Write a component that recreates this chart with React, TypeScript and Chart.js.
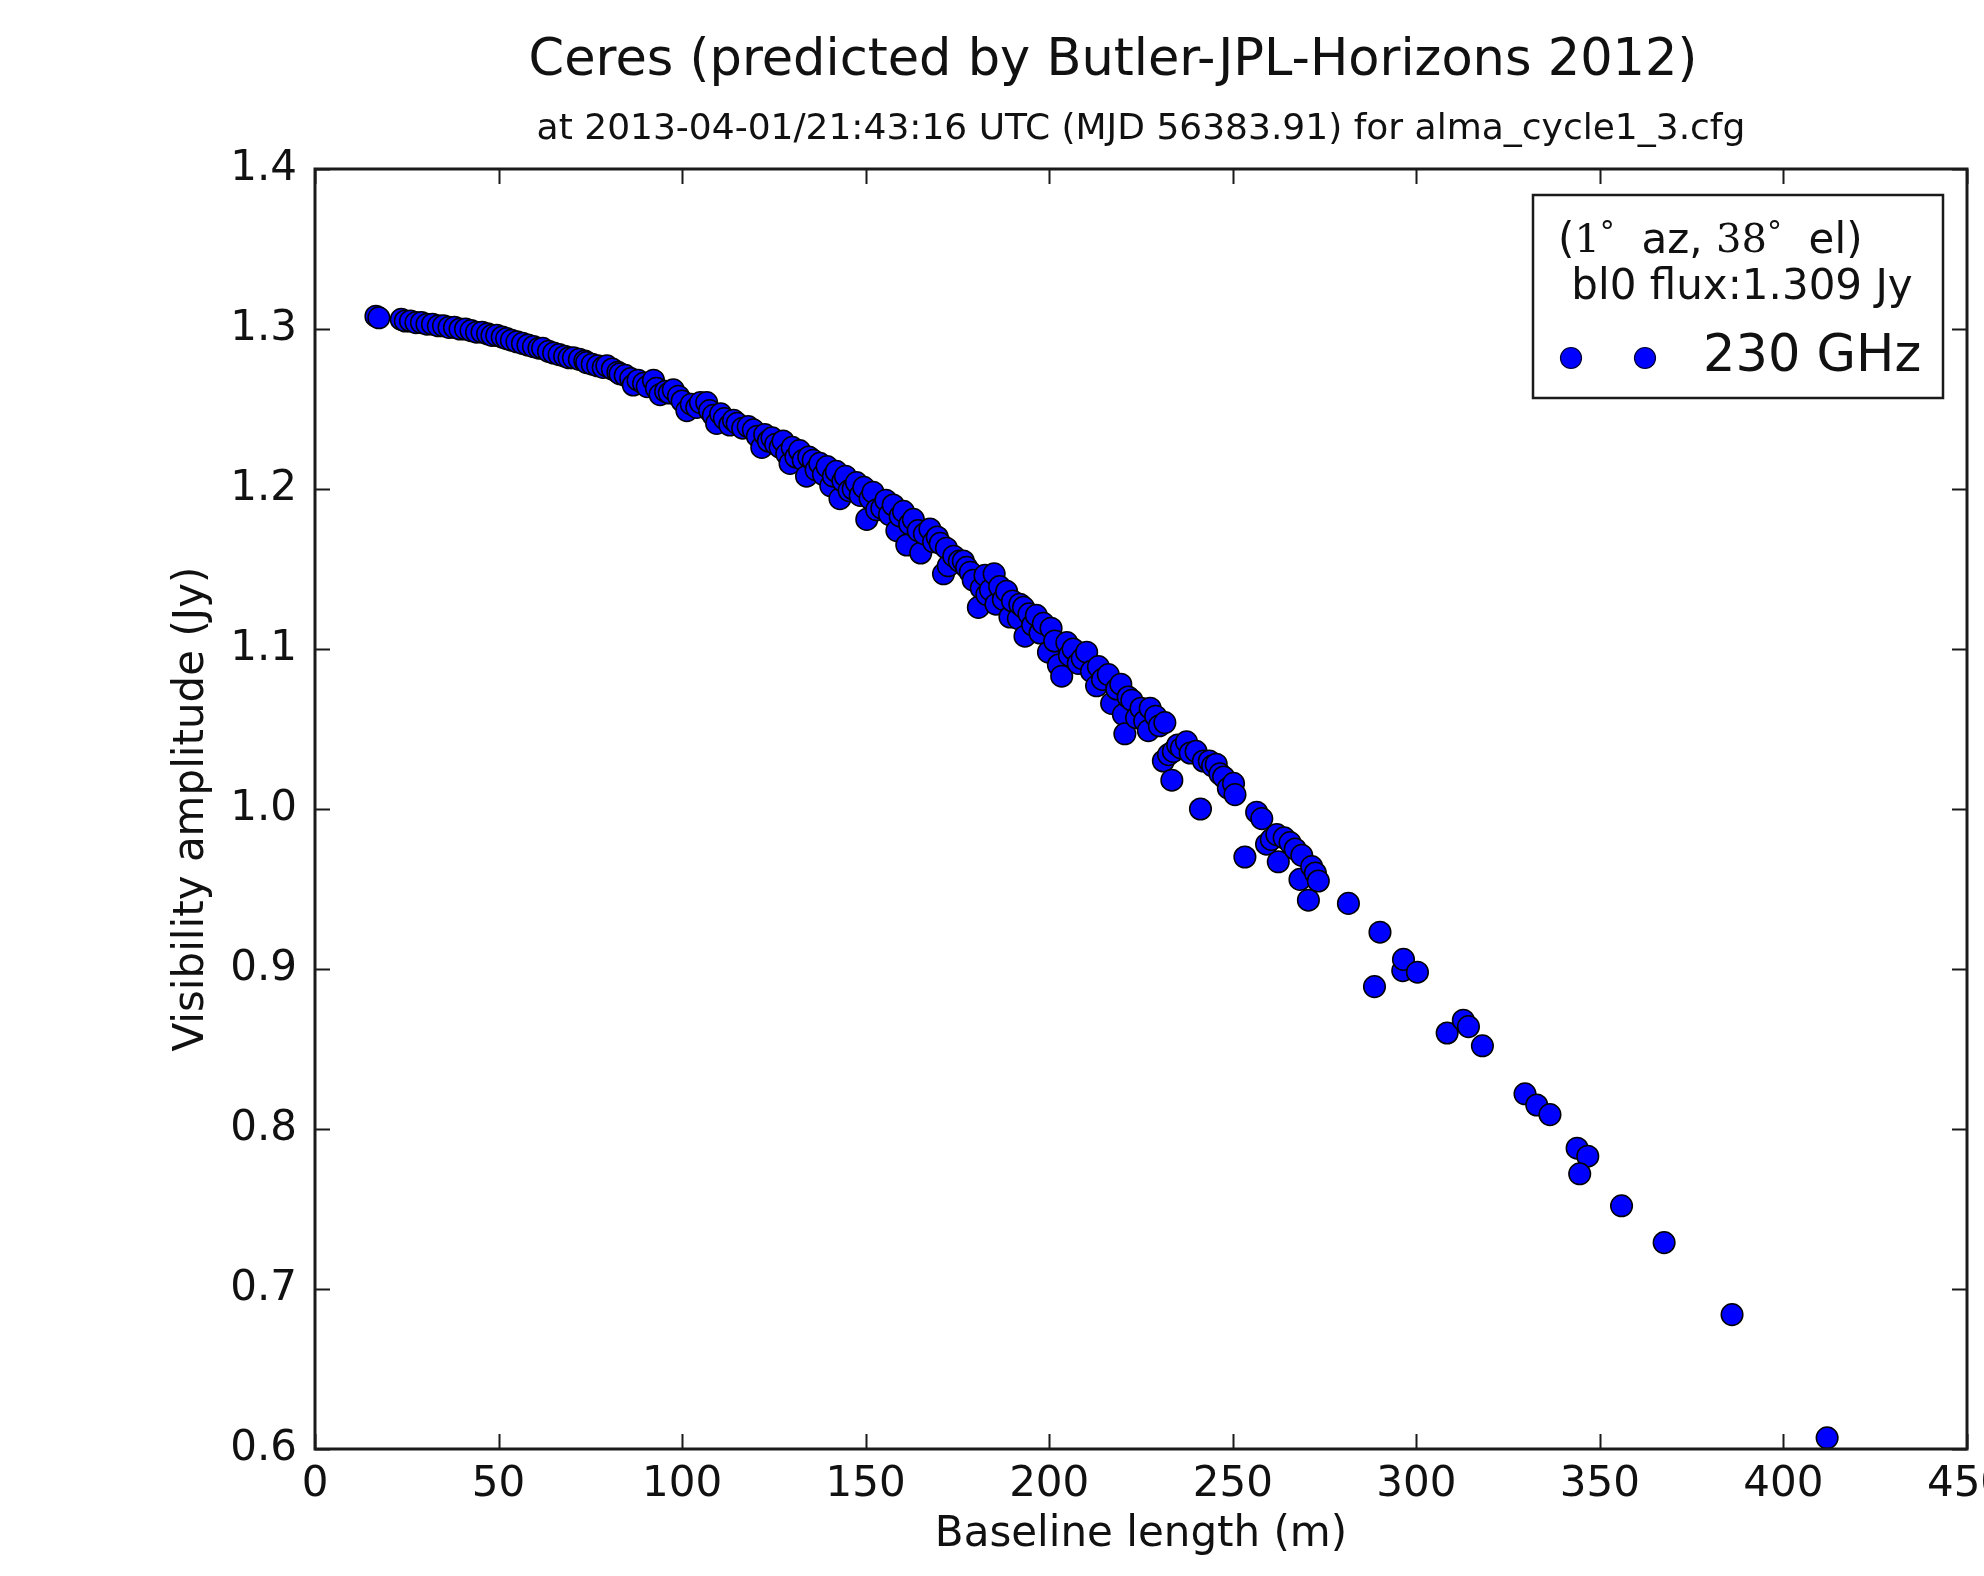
import React, { useEffect, useRef } from "react";
import { Chart, registerables } from "chart.js";

Chart.register(...registerables);

const FONT = "'DejaVu Sans', 'Liberation Sans', sans-serif";
const SERIF = "'DejaVu Serif', 'Liberation Serif', serif";

const chartTitle = "Ceres (predicted by Butler-JPL-Horizons 2012)";
const chartSubtitle = "at 2013-04-01/21:43:16 UTC (MJD 56383.91) for alma_cycle1_3.cfg";
const xAxisLabel = "Baseline length (m)";
const yAxisLabel = "Visibility amplitude (Jy)";
const seriesLabel = "230 GHz";
const legendFluxNote = " bl0 flux:1.309 Jy";
const legendAzimuth = "1";
const legendElevation = "38";

const xTickValues = [0, 50, 100, 150, 200, 250, 300, 350, 400, 450];
const yTickValues = [0.6, 0.7, 0.8, 0.9, 1.0, 1.1, 1.2, 1.3, 1.4];

// Baseline length (m)
const baselineM = [
  16.6, 17.4, 23.5, 24.6, 26.0, 27.5, 29.0, 30.5, 32.0, 33.6,
  35.0, 36.5, 38.0, 39.5, 41.0, 42.5, 44.0, 45.5, 47.0, 48.2,
  49.5, 51.0, 52.2, 53.5, 55.0, 56.5, 58.0, 59.5, 61.0, 62.0,
  63.6, 65.0, 66.5, 68.0, 69.2, 70.4, 72.0, 73.5, 74.0, 75.5,
  77.0, 78.5, 79.5, 81.0, 82.5, 83.1, 84.5, 86.0, 86.7, 88.0,
  89.5, 90.5, 92.2, 93.0, 94.0, 95.5, 96.5, 97.6, 99.0, 100.0,
  101.3, 102.5, 104.0, 105.0, 106.7, 107.5, 108.5, 109.4, 110.5, 111.5,
  113.0, 114.0, 115.0, 116.5, 118.0, 119.4, 120.5, 121.7, 122.5, 123.5,
  124.5, 125.5, 126.7, 127.5, 128.5, 129.4, 130.0, 131.0, 132.0, 133.0,
  133.9, 134.5, 135.7, 136.5, 137.5, 138.5, 139.5, 140.5, 141.2, 142.0,
  143.0, 143.8, 144.5, 145.5, 146.6, 147.5, 148.5, 149.5, 150.3, 151.2,
  152.0, 153.0, 154.4, 155.5, 156.5, 157.5, 158.5, 159.4, 160.3, 161.2,
  162.0, 163.0, 164.3, 165.0, 166.0, 167.5, 168.5, 169.5, 170.3, 171.2,
  172.0, 172.5, 174.0, 175.5, 176.6, 177.5, 178.5, 179.3, 180.7, 181.5,
  182.5, 183.0, 184.0, 185.0, 185.5, 186.5, 187.5, 188.4, 189.3, 190.0,
  191.6, 192.0, 193.0, 193.4, 194.5, 195.5, 196.5, 197.5, 198.4, 199.8,
  200.5, 201.5, 202.5, 203.4, 204.8, 205.5, 206.5, 207.9, 209.0, 210.2,
  211.5, 212.9, 213.4, 214.5, 216.1, 217.0, 218.4, 219.5, 220.2, 220.6,
  221.5, 222.5, 223.8, 225.0, 226.0, 227.0, 227.5, 229.0, 230.0, 231.5,
  231.1, 232.5, 233.4, 233.8, 235.0, 236.0, 237.4, 238.4, 240.0, 241.2,
  242.0, 243.6, 244.5, 245.5, 246.5, 247.5, 248.8, 250.2, 250.6, 253.3,
  256.5, 257.9, 259.2, 260.5, 262.0, 262.4, 264.0, 265.6, 267.0, 268.3,
  268.8, 270.6, 271.5, 272.5, 273.3, 281.5, 288.6, 290.1, 296.3, 296.5,
  300.3, 308.4, 312.8, 314.2, 318.0, 329.6, 332.8, 336.4, 343.8, 346.7,
  344.5, 355.9, 367.5, 386.0, 411.9,
];

// Visibility amplitude (Jy)
const amplitudeJy = [
  1.308, 1.307, 1.306, 1.305, 1.305, 1.304, 1.304, 1.303, 1.303, 1.302,
  1.302, 1.301, 1.301, 1.300, 1.300, 1.299, 1.298, 1.298, 1.297, 1.296,
  1.296, 1.295, 1.294, 1.293, 1.292, 1.291, 1.290, 1.289, 1.288, 1.288,
  1.286, 1.285, 1.284, 1.283, 1.282, 1.282, 1.281, 1.280, 1.279, 1.278,
  1.277, 1.276, 1.277, 1.275, 1.273, 1.272, 1.271, 1.269, 1.265, 1.268,
  1.266, 1.264, 1.268, 1.263, 1.259, 1.261, 1.260, 1.262, 1.258, 1.255,
  1.249, 1.253, 1.251, 1.254, 1.254, 1.249, 1.246, 1.241, 1.247, 1.244,
  1.240, 1.243, 1.241, 1.238, 1.239, 1.237, 1.233, 1.226, 1.234, 1.230,
  1.232, 1.228, 1.226, 1.230, 1.222, 1.216, 1.226, 1.220, 1.224, 1.218,
  1.208, 1.220, 1.218, 1.212, 1.216, 1.209, 1.214, 1.202, 1.208, 1.211,
  1.194, 1.205, 1.208, 1.199, 1.200, 1.204, 1.196, 1.201, 1.181, 1.194,
  1.198, 1.187, 1.188, 1.193, 1.184, 1.190, 1.174, 1.183, 1.186, 1.165,
  1.178, 1.181, 1.174, 1.160, 1.172, 1.175, 1.167, 1.170, 1.166, 1.147,
  1.163, 1.152, 1.158, 1.155, 1.155, 1.151, 1.148, 1.143, 1.126, 1.138,
  1.146, 1.134, 1.137, 1.147, 1.128, 1.139, 1.131, 1.136, 1.120, 1.130,
  1.119, 1.128, 1.126, 1.108, 1.122, 1.115, 1.121, 1.110, 1.116, 1.098,
  1.113, 1.105, 1.090, 1.083, 1.104, 1.096, 1.100, 1.091, 1.094, 1.098,
  1.086, 1.077, 1.089, 1.081, 1.084, 1.066, 1.075, 1.078, 1.059, 1.047,
  1.070, 1.068, 1.057, 1.063, 1.055, 1.049, 1.063, 1.058, 1.052, 1.054,
  1.030, 1.034, 1.018, 1.036, 1.040, 1.038, 1.042, 1.035, 1.036, 1.000,
  1.030, 1.030, 1.027, 1.028, 1.022, 1.020, 1.013, 1.016, 1.009, 0.970,
  0.998, 0.994, 0.978, 0.981, 0.984, 0.967, 0.982, 0.979, 0.975, 0.956,
  0.971, 0.943, 0.964, 0.960, 0.955, 0.941, 0.889, 0.923, 0.899, 0.906,
  0.898, 0.860, 0.868, 0.864, 0.852, 0.822, 0.815, 0.809, 0.788, 0.783,
  0.772, 0.752, 0.729, 0.684, 0.607,
];

const MARKER_FILL = "#0000ff";
const MARKER_EDGE = "#000000";
const TITLE_SHIFT_X = -28;

const decorPlugin = {
  id: "mplDecor",
  afterLayout(chart: any) {
    const tb = chart.titleBlock;
    if (tb) {
      tb.left += TITLE_SHIFT_X;
      tb.right += TITLE_SHIFT_X;
    }
  },
  afterDraw(chart: any) {
    const { ctx, chartArea: a, scales } = chart;
    const xs = scales.x;
    const ys = scales.y;
    ctx.save();
    // inward tick marks on all four sides
    ctx.strokeStyle = "#1a1a1a";
    ctx.lineWidth = 2;
    ctx.beginPath();
    xs.ticks.forEach((t: any) => {
      const p = Math.round(xs.getPixelForValue(t.value)) + 0.5;
      ctx.moveTo(p, a.bottom);
      ctx.lineTo(p, a.bottom - 15);
      ctx.moveTo(p, a.top);
      ctx.lineTo(p, a.top + 15);
    });
    ys.ticks.forEach((t: any) => {
      const p = Math.round(ys.getPixelForValue(t.value)) + 0.5;
      ctx.moveTo(a.left, p);
      ctx.lineTo(a.left + 15, p);
      ctx.moveTo(a.right, p);
      ctx.lineTo(a.right - 15, p);
    });
    ctx.stroke();
    // axes frame
    ctx.lineWidth = 3;
    ctx.strokeStyle = "#1a1a1a";
    ctx.strokeRect(a.left, a.top, a.right - a.left, a.bottom - a.top);

    // legend box
    const bx2 = a.right - 24;
    const by1 = a.top + 26;
    const bw = 410;
    const bh = 203;
    const bx1 = bx2 - bw;
    ctx.fillStyle = "#ffffff";
    ctx.fillRect(bx1, by1, bw, bh);
    ctx.lineWidth = 2.5;
    ctx.strokeStyle = "#1a1a1a";
    ctx.strokeRect(bx1, by1, bw, bh);

    ctx.fillStyle = "#111111";
    ctx.textBaseline = "middle";
    ctx.textAlign = "left";
    // line 1: (1°  az, 38°  el) with mathtext-like serif numbers
    let x = bx1 + 25;
    const y1 = by1 + 47;
    const segs: [string, string, number][] = [
      ["(", FONT, 42],
      [legendAzimuth, SERIF, 40],
      ["°", FONT, 30],
      ["  az, ", FONT, 42],
      [legendElevation, SERIF, 40],
      ["°", FONT, 30],
      ["  el)", FONT, 42],
    ];
    segs.forEach(([txt, fam, size]) => {
      ctx.font = `${size}px ${fam}`;
      const dy = txt === "°" ? -8 : 0;
      ctx.fillText(txt, x, y1 + dy);
      x += ctx.measureText(txt).width;
    });
    // line 2
    ctx.font = `42px ${FONT}`;
    ctx.fillText(legendFluxNote, bx1 + 25, by1 + 93);
    // markers (two points) and label
    const my = by1 + 163;
    [bx1 + 38, bx1 + 112].forEach((mx) => {
      ctx.beginPath();
      ctx.arc(mx, my, 10.5, 0, Math.PI * 2);
      ctx.fillStyle = MARKER_FILL;
      ctx.fill();
      ctx.lineWidth = 1.2;
      ctx.strokeStyle = "#000033";
      ctx.stroke();
    });
    ctx.fillStyle = "#111111";
    ctx.font = `51px ${FONT}`;
    ctx.fillText(seriesLabel, bx1 + 170, my);
    ctx.restore();
  },
};

export default function App() {
  const canvasRef = useRef<HTMLCanvasElement | null>(null);

  useEffect(() => {
    const canvas = canvasRef.current;
    if (!canvas) return;
    const points = baselineM.map((b, i) => ({ x: b, y: amplitudeJy[i] }));

    const chart = new Chart(canvas, {
      type: "scatter",
      data: {
        datasets: [
          {
            label: seriesLabel,
            data: points,
            backgroundColor: MARKER_FILL,
            borderColor: MARKER_EDGE,
            borderWidth: 1.5,
            pointRadius: 10.8,
            pointHoverRadius: 10.8,
          },
        ],
      },
      options: {
        responsive: false,
        animation: false,
        devicePixelRatio: 1,
        layout: { padding: { left: 0, right: 17, top: 0, bottom: 0 } },
        plugins: {
          legend: { display: false },
          tooltip: { enabled: false },
          title: {
            display: true,
            text: chartTitle,
            fullSize: false,
            color: "#111111",
            font: { family: FONT, size: 51, weight: "normal", lineHeight: 1.2 },
            padding: { top: 31, bottom: 0 },
          },
          subtitle: {
            display: true,
            text: chartSubtitle,
            fullSize: false,
            color: "#111111",
            font: { family: FONT, size: 36, weight: "normal", lineHeight: 1.2 },
            padding: { top: 16.2, bottom: 17.4 },
          },
        },
        scales: {
          x: {
            type: "linear",
            position: "bottom",
            min: xTickValues[0],
            max: xTickValues[xTickValues.length - 1],
            grid: { display: false, drawTicks: false },
            border: { display: false },
            afterBuildTicks: (s: any) => {
              s.ticks = xTickValues.map((v) => ({ value: v }));
            },
            ticks: {
              autoSkip: false,
              maxRotation: 0,
              padding: 11,
              color: "#111111",
              font: { family: FONT, size: 42 },
              callback: (v: any) => String(v),
            },
            title: {
              display: true,
              text: xAxisLabel,
              color: "#111111",
              font: { family: FONT, size: 42, lineHeight: 1.2 },
              padding: { top: 0, bottom: 16 },
            },
            afterFit: (s: any) => {
              s.height = 127;
              s.paddingLeft = 0;
              s.paddingRight = 0;
            },
          },
          y: {
            type: "linear",
            position: "left",
            min: yTickValues[0],
            max: yTickValues[yTickValues.length - 1],
            grid: { display: false, drawTicks: false },
            border: { display: false },
            afterBuildTicks: (s: any) => {
              s.ticks = yTickValues.map((v) => ({ value: v }));
            },
            ticks: {
              autoSkip: false,
              padding: 18,
              color: "#111111",
              font: { family: FONT, size: 42 },
              callback: (v: any) => Number(v).toFixed(1),
            },
            title: {
              display: true,
              text: yAxisLabel,
              color: "#111111",
              font: { family: FONT, size: 42, lineHeight: 1.2 },
              padding: { top: 166.8, bottom: 0 },
            },
            afterFit: (s: any) => {
              s.width = 315;
              s.paddingTop = 0;
              s.paddingBottom = 0;
            },
          },
        },
      },
      plugins: [decorPlugin],
    } as any);

    return () => {
      chart.destroy();
    };
  }, []);

  return (
    <div style={{ position: "absolute", left: 0, top: 0, width: 1984, height: 1576, background: "#ffffff" }}>
      <canvas ref={canvasRef} width={1984} height={1576} style={{ display: "block", width: 1984, height: 1576 }} />
    </div>
  );
}
